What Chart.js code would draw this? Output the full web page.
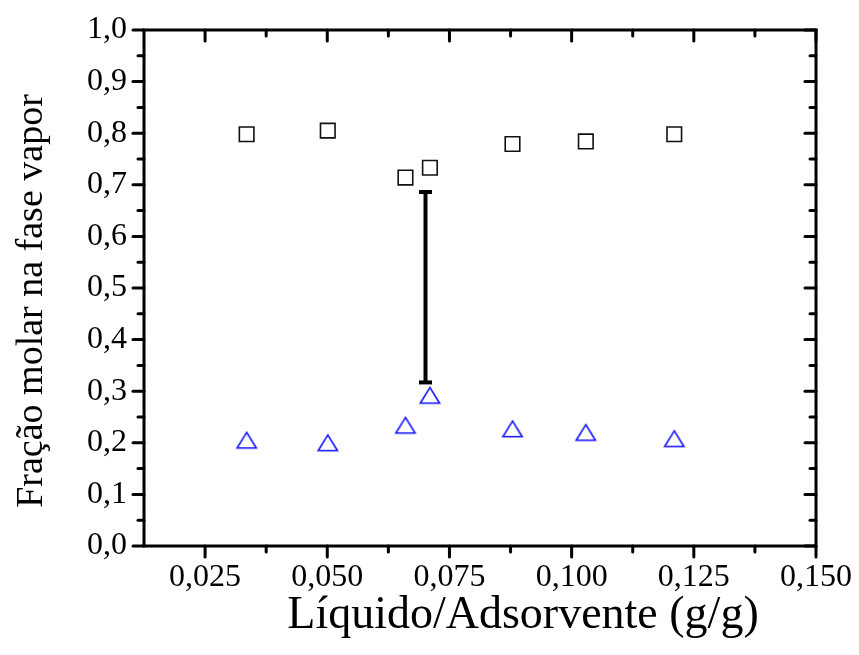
<!DOCTYPE html>
<html>
<head>
<meta charset="utf-8">
<script src="https://cdn.jsdelivr.net/npm/chart.js@4/dist/chart.umd.min.js"></script>
<style>
  html, body { margin: 0; padding: 0; background: #fff; }
  #c { display: block; }
</style>
</head>
<body>
<canvas id="c" width="859" height="655"></canvas>
<script>
// Liquid/adsorbent ratio (g/g)
const ratio = [0.0335, 0.0501, 0.0660, 0.0710, 0.0879, 0.1029, 0.1210];
// Vapour-phase mole fraction, upper component (squares)
const vaporUpper = [0.798, 0.805, 0.714, 0.733, 0.779, 0.784, 0.798];
// Vapour-phase mole fraction, lower component (triangles)
const vaporLower = [0.205, 0.200, 0.234, 0.292, 0.227, 0.220, 0.208];
// Range bar
const rangeX = 0.0701;
const rangeLow = 0.317;
const rangeHigh = 0.686;

// Axis ticks
const xTicks = [0.025, 0.050, 0.075, 0.100, 0.125, 0.150];
const xTickLabels = ['0,025', '0,050', '0,075', '0,100', '0,125', '0,150'];
const xMinor = [0.0375, 0.0625, 0.0875, 0.1125, 0.1375];
const yTicks = [0, 0.1, 0.2, 0.3, 0.4, 0.5, 0.6, 0.7, 0.8, 0.9, 1.0];
const yTickLabels = ['0,0', '0,1', '0,2', '0,3', '0,4', '0,5', '0,6', '0,7', '0,8', '0,9', '1,0'];
const yMinor = [0.05, 0.15, 0.25, 0.35, 0.45, 0.55, 0.65, 0.75, 0.85, 0.95];

const xTitle = 'Líquido/Adsorvente (g/g)';
const yTitle = 'Fração molar na fase vapor';

const SERIF = "'Liberation Serif', 'Times New Roman', serif";

// Open triangle marker, centred on its bounding box
function triangleMarker(color) {
  const cv = document.createElement('canvas');
  cv.width = 24; cv.height = 20;
  const g = cv.getContext('2d');
  g.strokeStyle = color;
  g.lineWidth = 1.6;
  g.lineJoin = 'miter';
  g.beginPath();
  g.moveTo(12, 2.2);
  g.lineTo(21.6, 17.8);
  g.lineTo(2.4, 17.8);
  g.closePath();
  g.stroke();
  return cv;
}

// Box frame with inward ticks on top/right and outward ticks on bottom/left,
// plus the two axis titles
const framePlugin = {
  id: 'frame',
  afterDraw(chart) {
    const { ctx, chartArea: a, scales } = chart;
    const x = scales.x, y = scales.y;
    const MAJ = 11, MIN = 6;
    ctx.save();
    ctx.strokeStyle = '#000';
    ctx.lineWidth = 3;
    ctx.lineCap = 'round';
    const seg = (x1, y1, x2, y2) => { ctx.beginPath(); ctx.moveTo(x1, y1); ctx.lineTo(x2, y2); ctx.stroke(); };
    xTicks.forEach(v => {
      const p = x.getPixelForValue(v);
      seg(p, a.bottom, p, a.bottom + MAJ);
      seg(p, a.top, p, a.top + MAJ);
    });
    xMinor.forEach(v => {
      const p = x.getPixelForValue(v);
      seg(p, a.bottom, p, a.bottom + MIN);
      seg(p, a.top, p, a.top + MIN);
    });
    yTicks.forEach(v => {
      const p = y.getPixelForValue(v);
      seg(a.left, p, a.left - MAJ, p);
      seg(a.right, p, a.right - MAJ, p);
    });
    yMinor.forEach(v => {
      const p = y.getPixelForValue(v);
      seg(a.left, p, a.left - MIN, p);
      seg(a.right, p, a.right - MIN, p);
    });
    ctx.lineCap = 'square';
    ctx.strokeRect(a.left, a.top, a.right - a.left, a.bottom - a.top);

    // Axis titles
    ctx.fillStyle = '#000';
    ctx.textBaseline = 'alphabetic';
    ctx.textAlign = 'center';
    ctx.font = '46px ' + SERIF;
    ctx.fillText(xTitle, (a.left + a.right) / 2 + 43, a.bottom + 82);
    ctx.save();
    ctx.translate(a.left - 102, (a.top + a.bottom) / 2 + 13);
    ctx.rotate(-Math.PI / 2);
    ctx.font = '38px ' + SERIF;
    ctx.fillText(yTitle, 0, 0);
    ctx.restore();
    ctx.restore();
  }
};

const noPad = s => { s.paddingLeft = 0; s.paddingRight = 0; s.paddingTop = 0; s.paddingBottom = 0; };

new Chart(document.getElementById('c'), {
  type: 'scatter',
  data: {
    datasets: [
      {
        label: 'range',
        type: 'line',
        data: [{ x: rangeX, y: rangeLow }, { x: rangeX, y: rangeHigh }],
        borderColor: '#000',
        borderWidth: 4,
        pointStyle: 'line',
        pointRadius: 6.5,
        pointBorderWidth: 4,
        pointBorderColor: '#000',
        pointBackgroundColor: '#000',
        fill: false
      },
      {
        label: 'upper',
        data: ratio.map((v, i) => ({ x: v, y: vaporUpper[i] })),
        pointStyle: 'rect',
        pointRadius: 10.3,
        pointBorderWidth: 1.6,
        pointBorderColor: '#111',
        pointBackgroundColor: 'rgba(0,0,0,0)',
        showLine: false
      },
      {
        label: 'lower',
        data: ratio.map((v, i) => ({ x: v, y: vaporLower[i] })),
        pointStyle: triangleMarker('#1010ff'),
        pointRadius: 10,
        showLine: false
      }
    ]
  },
  options: {
    responsive: false,
    devicePixelRatio: 1,
    animation: false,
    events: [],
    layout: { padding: { top: 30, right: 43, left: 0, bottom: 0 } },
    plugins: { legend: { display: false }, tooltip: { enabled: false } },
    scales: {
      x: {
        type: 'linear',
        min: 0.0125,
        max: 0.150,
        afterBuildTicks: s => { s.ticks = xTicks.map(v => ({ value: v })); },
        afterFit: s => { s.height = 109; noPad(s); },
        grid: { display: false, drawTicks: false },
        border: { display: false },
        ticks: {
          color: '#000',
          padding: 12,
          maxRotation: 0,
          autoSkip: false,
          font: { family: SERIF, size: 32 },
          callback: (v, i) => xTickLabels[i]
        }
      },
      y: {
        type: 'linear',
        min: 0,
        max: 1,
        afterBuildTicks: s => { s.ticks = yTicks.map(v => ({ value: v })); },
        afterFit: s => { s.width = 144; noPad(s); },
        grid: { display: false, drawTicks: false },
        border: { display: false },
        ticks: {
          color: '#000',
          padding: 17,
          autoSkip: false,
          font: { family: SERIF, size: 32 },
          callback: (v, i) => yTickLabels[i]
        }
      }
    }
  },
  plugins: [framePlugin]
});
</script>
</body>
</html>
